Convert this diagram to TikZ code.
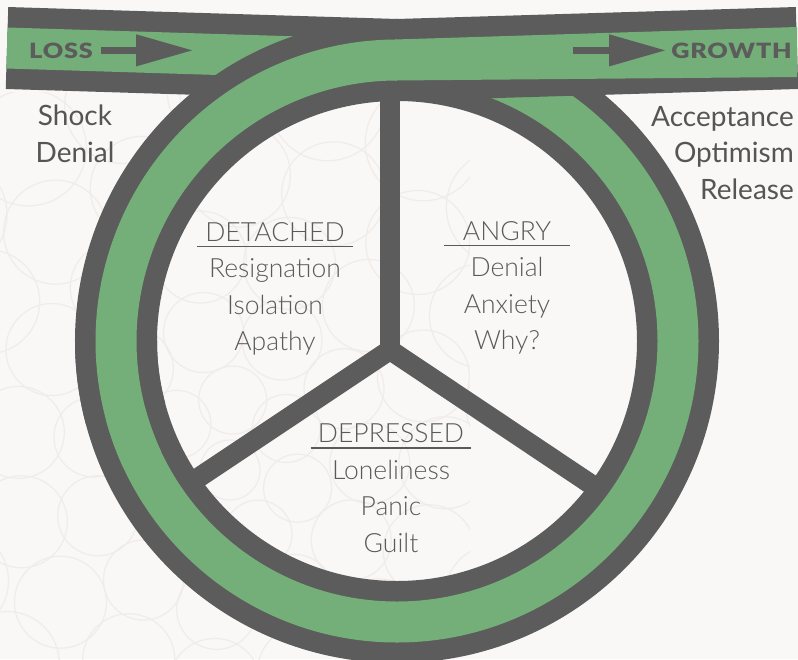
\documentclass[tikz,border=0pt]{standalone}
\usepackage{fontspec}
\setmainfont{Lato}
\IfFontExistsTF{Lato Light}{\newfontfamily\lightfont{Lato Light}}{\newfontfamily\lightfont{Lato}}
\IfFontExistsTF{Lato Black}{\newfontfamily\heavyfont{Lato Black}[FakeStretch=1.2,LetterSpace=4]}{\newcommand\heavyfont{\bfseries}}
\usetikzlibrary{arrows.meta}
\definecolor{bandgray}{HTML}{5C5C5C}
\definecolor{bandgreen}{HTML}{74AE78}
\definecolor{bgcol}{HTML}{F9F8F7}
\definecolor{txtgray}{HTML}{555555}
\definecolor{lighttxt}{HTML}{5A5A5A}
\definecolor{patcol}{HTML}{F1ECE9}
\newsavebox\headbox
\newcommand\headul[2][7pt]{\sbox\headbox{#2}\kern-#1\rlap{\rule[-6pt]{\dimexpr\wd\headbox+#1+#1\relax}{1.8pt}}\kern#1\usebox\headbox}
\begin{document}
\begin{tikzpicture}[x=1pt,y=-1pt,
  graybandstyle/.style={draw=bandgray,line width=82pt},
  greenbandstyle/.style={draw=bandgreen,line width=41pt},
  spokestyle/.style={draw=bandgray,line width=20pt},
  outerlabel/.style={text=txtgray,font=\fontsize{28}{36.5}\selectfont,inner sep=0pt},
  innerlabel/.style={text=lighttxt,font=\lightfont\fontsize{26.5}{36.5}\selectfont,align=center,inner sep=0pt},
  bandlabel/.style={text=bandgray,font=\heavyfont\fontsize{21}{24}\selectfont,inner sep=0pt},
  flowarrow/.style={draw=bandgray,line width=7pt,-{Triangle[length=57pt,width=30pt]}},
  patline/.style={draw=patcol,line width=1.3pt}]
\fill[bgcol] (0,0) rectangle (798,659);
\useasboundingbox (0,0) rectangle (798,659);
% faint background flower pattern
\begin{scope}
\clip (0,92) rectangle (470,659);
\foreach \r/\n/\s in {0/1/30, 70/7/34, 140/11/40, 215/15/46, 295/19/52, 380/23/58}{
  \foreach \i in {1,...,\n}{
    \draw[patline] (230,470) ++({360/\n*\i+15*\r/70}:\r) circle[radius=\s];
  }
}
\end{scope}
% spokes
\coordinate (hub) at (390,350);
\coordinate (spoketop) at (390,60);
\coordinate (spokeleft) at (192,482);
\coordinate (spokeright) at (598,489);
\draw[spokestyle,line join=miter] (spokeleft) -- (hub) -- (spokeright);
\draw[spokestyle] (hub) -- (spoketop);
% bands
\coordinate (lossstart) at (7,48);
\coordinate (ringtop) at (397,60);
\coordinate (ringcenter) at (397,341);
\coordinate (growthend) at (797,48);
\draw[graybandstyle] (lossstart) -- (ringtop) arc[start angle=-90,end angle=180,radius=281];
\draw[greenbandstyle] (lossstart) -- (ringtop) arc[start angle=-90,end angle=180,radius=281];
\draw[graybandstyle] (ringcenter) ++(165:281) arc[start angle=165,end angle=270,radius=281] -- (growthend);
\draw[greenbandstyle] (ringcenter) ++(155:281) arc[start angle=155,end angle=270,radius=281];
\fill[bandgreen] (395,39.5) -- (797,27) -- (797,77) -- (395,80.5) -- cycle;
% labels
\node[outerlabel,align=center] (shockdenial) at (75,134) {Shock\\Denial};
\node[outerlabel,align=right,anchor=east] (acceptlabel) at (794,153) {Acceptance\\Optimism\\Release};
\node[innerlabel] (detached) at (275,289) {\headul[8pt]{DETACHED}\\Resignation\\Isolation\\Apathy};
\node[innerlabel] (angry) at (507,288) {\headul[19pt]{ANGRY}\\Denial\\Anxiety\\Why?};
\node[innerlabel] (depressed) at (391,488) {\headul{DEPRESSED}\\Loneliness\\Panic\\Guilt};
\node[bandlabel,anchor=base west] (loss) at (29,58) {LOSS};
\node[bandlabel,anchor=base east] (growth) at (792,58) {GROWTH};
\coordinate (losstip) at ([xshift=100pt]loss.east);
\draw[flowarrow] ([xshift=8pt]loss.east) -- (losstip);
\coordinate (growthtail) at ([xshift=-98pt]growth.west);
\draw[flowarrow] (growthtail) -- ([xshift=-5pt]growth.west);
\end{tikzpicture}
\end{document}
